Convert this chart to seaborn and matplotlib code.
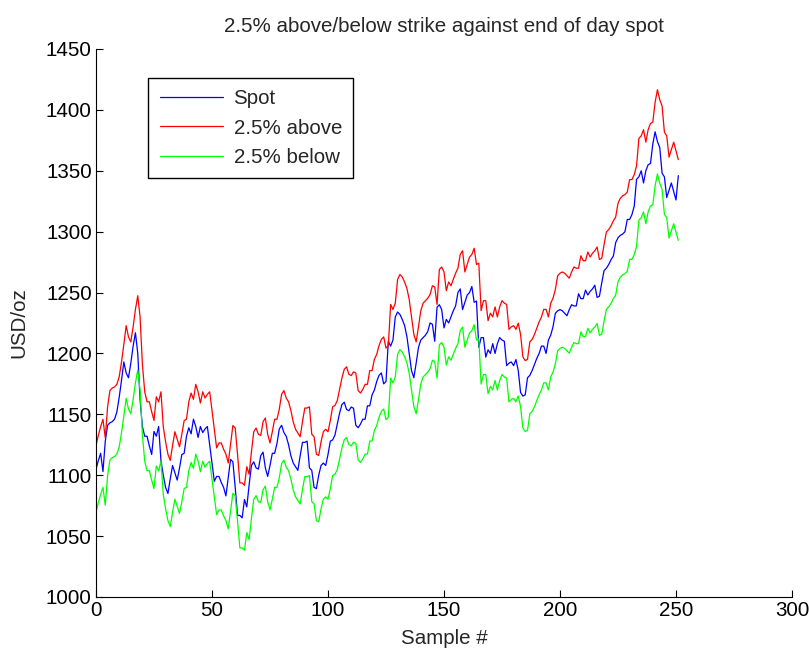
import matplotlib
matplotlib.use("Agg")
import matplotlib.pyplot as plt
import seaborn as sns
import pandas as pd

# End-of-day spot, USD/oz
spot = [
    1105, 1112, 1118, 1103, 1128, 1141, 1143, 1144, 1146, 1152,
    1164, 1178, 1193, 1184, 1180, 1192, 1206, 1217, 1200, 1162,
    1140, 1132, 1132, 1124, 1117, 1136, 1132, 1140, 1112, 1100,
    1090, 1085, 1097, 1108, 1102, 1096, 1106, 1117, 1118, 1132,
    1139, 1134, 1146, 1140, 1131, 1140, 1135, 1138, 1140, 1125,
    1110, 1095, 1099, 1099, 1094, 1090, 1083, 1098, 1113, 1111,
    1090, 1067, 1067, 1065, 1080, 1074, 1092, 1108, 1111, 1106,
    1105, 1116, 1119, 1106, 1099, 1108, 1118, 1118, 1126, 1138,
    1141, 1135, 1132, 1125, 1116, 1110, 1107, 1104, 1116, 1127,
    1127, 1128, 1106, 1104, 1090, 1089, 1100, 1108, 1110, 1108,
    1117, 1128, 1129, 1133, 1142, 1151, 1158, 1160, 1154, 1153,
    1156, 1155, 1141, 1139, 1142, 1146, 1146, 1157, 1157, 1166,
    1170, 1177, 1182, 1184, 1175, 1177, 1210, 1206, 1211, 1230,
    1234, 1232, 1228, 1223, 1214, 1200, 1186, 1180, 1192, 1205,
    1211, 1213, 1215, 1218, 1225, 1224, 1210, 1238, 1240, 1236,
    1221, 1228, 1225, 1230, 1235, 1239, 1250, 1253, 1236, 1242,
    1248, 1250, 1255, 1242, 1243, 1205, 1213, 1213, 1197, 1203,
    1200, 1208, 1200, 1208, 1213, 1211, 1210, 1190, 1192, 1193,
    1190, 1195, 1186, 1168, 1165, 1166, 1180, 1182, 1186, 1191,
    1196, 1200, 1206, 1206, 1200, 1211, 1215, 1222, 1233, 1235,
    1236, 1235, 1233, 1231, 1236, 1240, 1239, 1239, 1249, 1245,
    1245, 1252, 1248, 1251, 1253, 1256, 1246, 1247, 1258, 1268,
    1270, 1273, 1277, 1280, 1291, 1295, 1297, 1298, 1300, 1310,
    1310, 1314, 1321, 1343, 1345, 1350, 1340, 1350, 1355, 1356,
    1372, 1382, 1374, 1369, 1348, 1345, 1328, 1334, 1340, 1333,
    1326, 1346,
]
# Strike = previous day's close (first day's strike)
strike_day0 = 1097
strike = [strike_day0] + spot[:-1]
above = [s * 1.025 for s in strike]
below = [s * 0.975 for s in strike]

series_names = ["Spot", "2.5% above", "2.5% below"]
series_colors = ["#0000ff", "#ff0000", "#00ff00"]
x_ticks = [0, 50, 100, 150, 200, 250, 300]
y_ticks = [1000, 1050, 1100, 1150, 1200, 1250, 1300, 1350, 1400, 1450]

n = len(spot)
df = pd.DataFrame({
    "Sample": list(range(n)) * 3,
    "value": spot + above + below,
    "series": [series_names[0]] * n + [series_names[1]] * n + [series_names[2]] * n,
})

sns.set_style("white")
plt.rcParams["font.family"] = ["Liberation Sans", "DejaVu Sans"]
plt.rcParams["xtick.direction"] = "in"
plt.rcParams["ytick.direction"] = "in"

FS = 14.8
fig = plt.figure(figsize=(8.09, 6.5), dpi=100)
ax = fig.add_axes([96 / 809, 53 / 650, 696 / 809, 548 / 650])

sns.lineplot(data=df, x="Sample", y="value", hue="series", hue_order=series_names,
             palette=series_colors, estimator=None, linewidth=0.9, ax=ax, legend=True)

ax.set_xlim(0, 300)
ax.set_ylim(1000, 1450)
ax.set_xticks(x_ticks)
ax.set_yticks(y_ticks)
ax.tick_params(axis="both", labelsize=FS, length=5, width=0.8, colors="black",
               pad=3, left=True, bottom=True)
for side in ["top", "right"]:
    ax.spines[side].set_visible(False)
for side in ["left", "bottom"]:
    ax.spines[side].set_color("black")
    ax.spines[side].set_linewidth(0.8)

ax.set_title("2.5% above/below strike against end of day spot", fontsize=FS, pad=12)
ax.set_xlabel("Sample #", fontsize=FS, labelpad=6)
ax.set_ylabel("USD/oz", fontsize=FS, labelpad=13)

leg = ax.legend(loc="upper left", bbox_to_anchor=(0.075, 0.947), fontsize=FS,
                frameon=True, fancybox=False, edgecolor="black", framealpha=1,
                handlelength=3.1, handletextpad=0.5, borderpad=0.55,
                labelspacing=0.5, borderaxespad=0)
leg.get_frame().set_linewidth(1.0)
for line in leg.get_lines():
    line.set_linewidth(0.9)

fig.savefig("out.png", dpi=100)
